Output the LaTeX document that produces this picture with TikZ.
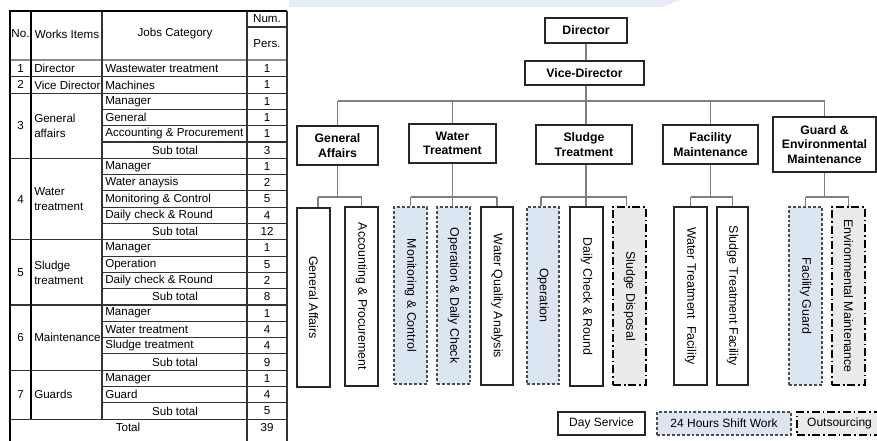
\documentclass[tikz,border=0pt]{standalone}
\usepackage{fontspec}
\setmainfont{Liberation Sans}
\usetikzlibrary{calc}

\definecolor{shiftblue}{HTML}{DCE6F2}
\definecolor{outgray}{HTML}{EBEBEB}
\definecolor{bandcol}{HTML}{E7EBF2}
\definecolor{linkgray}{HTML}{7F7F7F}

\tikzset{
  every node/.style={inner sep=0pt},
  dayserv/.style={draw=black!85, line width=0.8pt, fill=white},
  shiftwork/.style={draw=black!70, line width=0.85pt, dash pattern=on 2.2pt off 1.5pt, fill=shiftblue},
  outsrc/.style={draw=black, line width=1.1pt, dash pattern=on 6pt off 2.2pt on 1.2pt off 2.2pt, fill=outgray},
  dept/.style={dayserv, font=\fontsize{9.2}{11}\selectfont\bfseries, align=center},
  jobfont/.style={font=\fontsize{9.3}{11}\selectfont},
  legend/.style={font=\fontsize{9}{11}\selectfont},
  link/.style={draw=linkgray, line width=0.85pt},
  tabtext/.style={font=\fontsize{8.7}{11.2}\selectfont, align=left},
  tabthick/.style={draw=black, line width=1.4pt},
  tabline/.style={draw=black!80, line width=0.8pt},
  tabgray/.style={draw=black!45, line width=1.4pt},
}

% box given by its left/right/top/bottom edges (pixel units)
\newcommand\obox[7][]{%
  \pgfmathsetmacro\boxcx{(#3+#4)/2}%
  \pgfmathsetmacro\boxcy{(#5+#6)/2}%
  \pgfmathsetmacro\boxw{(#4-#3)*0.75}%
  \pgfmathsetmacro\boxh{(#6-#5)*0.75}%
  \node[#1, minimum width=\boxw pt, minimum height=\boxh pt] (#2) at (\boxcx,\boxcy) {#7};}
% tall box with text running downwards
\newcommand\jobbox[7][]{%
  \obox[#1, jobfont]{#2}{#3}{#4}{#5}{#6}{\rotatebox{-90}{#7}}}

% table rows
\newcommand\rowy[1]{\pgfmathsetmacro\ry{60.5+16.3*(#1+0.5)}}
\newcommand\trow[3]{\rowy{#1}%
  \node[tabtext, anchor=west] (job#1) at (105,\ry) {#2};
  \node[tabtext] (num#1) at (267,\ry) {#3};}
\newcommand\tsub[2]{\rowy{#1}%
  \node[tabtext] (job#1) at (175,\ry) {Sub total};
  \node[tabtext] (num#1) at (267,\ry) {#2};}
\newcommand\tgroup[4]{\pgfmathsetmacro\ry{60.5+16.3*((#1+#2)/2+0.5)}%
  \node[tabtext] (no#3) at (20.5,\ry) {#3};
  \node[tabtext, anchor=west] (item#3) at (34,\ry) {#4};}

\begin{document}
\begin{tikzpicture}[x=0.75pt, y=-0.75pt]
\useasboundingbox (0,0) rectangle (877,441);

% header band
\fill[bandcol] (289,0) -- (680,0) -- (662,7) -- (289,7) -- cycle;

% ---------------- staffing table ----------------
% horizontal rules across the whole table
\foreach \k in {1,2,6,11,15,19,22}
  \draw[tabline] (10,{60.5+16.3*\k}) -- (287,{60.5+16.3*\k});
% rules inside the job and number columns
\foreach \k in {3,4,5,7,8,9,10,12,13,14,16,17,18,20,21}
  \draw[tabline] (102,{60.5+16.3*\k}) -- (287,{60.5+16.3*\k});
\draw[tabgray] (10,60) -- (287,60);
\draw[tabline] (247,27) -- (287,27);
% vertical rules
\draw[tabline] (102,11) -- (102,{60.5+16.3*22});
\draw[tabline] (247,11) -- (247,441);
\draw[tabline] (287,11) -- (287,441);
\draw[tabthick] (31,11) -- (31,{60.5+16.3*22});
\draw[tabthick] (10,10.3) -- (10,441);
\draw[tabthick] (9.3,11) -- (287.4,11);

% header
\node[tabtext] (hNo) at (20.5,34) {No.};
\node[tabtext] (hItem) at (67,34) {Works Items};
\node[tabtext] (hJob) at (175,34) {Jobs Category};
\node[tabtext] (hNum) at (267,19) {Num.};
\node[tabtext] (hPers) at (267,44) {Pers.};

% groups
\tgroup{0}{0}{1}{Director}
\tgroup{1}{1}{2}{Vice Director}
\tgroup{2}{5}{3}{General\\affairs}
\tgroup{6}{10}{4}{Water\\treatment}
\tgroup{11}{14}{5}{Sludge\\treatment}
\tgroup{15}{18}{6}{Maintenance}
\tgroup{19}{21}{7}{Guards}

% rows
\trow{0}{Wastewater treatment}{1}
\trow{1}{Machines}{1}
\trow{2}{Manager}{1}
\trow{3}{General}{1}
\trow{4}{Accounting \& Procurement}{1}
\tsub{5}{3}
\trow{6}{Manager}{1}
\trow{7}{Water anaysis}{2}
\trow{8}{Monitoring \& Control}{5}
\trow{9}{Daily check \& Round}{4}
\tsub{10}{12}
\trow{11}{Manager}{1}
\trow{12}{Operation}{5}
\trow{13}{Daily check \& Round}{2}
\tsub{14}{8}
\trow{15}{Manager}{1}
\trow{16}{Water treatment}{4}
\trow{17}{Sludge treatment}{4}
\tsub{18}{9}
\trow{19}{Manager}{1}
\trow{20}{Guard}{4}
\tsub{21}{5}
\rowy{22}
\node[tabtext] (total) at (128,\ry) {Total};
\node[tabtext] (num22) at (267,\ry) {39};

% ---------------- organisation chart ----------------
\obox[dept]{dir}{545}{627}{18}{43}{Director}
\obox[dept]{vd}{525}{644}{61}{85}{Vice-Director}
\obox[dept]{ga}{297}{378}{126}{165}{General\\Affairs}
\obox[dept]{wt}{409}{496}{124}{163}{Water\\Treatment}
\obox[dept]{st}{536}{632}{125}{164}{Sludge\\Treatment}
\obox[dept]{fm}{663}{758}{125}{164}{Facility\\Maintenance}
\obox[dept]{gem}{773}{876}{117}{172}{Guard \&\\Environmental\\Maintenance}

\jobbox[dayserv]{gaGen}{297}{330}{208}{387}{General Affairs}
\jobbox[dayserv]{gaAcc}{345}{378}{207}{386}{Accounting \& Procurement}
\jobbox[shiftwork]{wtMon}{394}{427}{207}{384}{Monitoring \& Control}
\jobbox[shiftwork]{wtOp}{437}{470}{207}{384}{Operation \& Daily Check}
\jobbox[dayserv]{wtQual}{481}{513}{207}{385}{Water Quality Analysis}
\jobbox[shiftwork]{stOp}{527}{559}{207}{384}{Operation}
\jobbox[dayserv]{stDaily}{570}{603}{207}{386}{Daily Check \& Round}
\jobbox[outsrc]{stDisp}{613}{646}{207}{385}{Sludge Disposal}
\jobbox[dayserv]{fmWater}{674}{707}{207}{385}{Water Treatment\ \ Facility}
\jobbox[dayserv]{fmSludge}{717}{748}{207}{385}{Sludge Treatment Facility}
\jobbox[shiftwork]{gemGuard}{789}{822}{207}{385}{Facility Guard}
\jobbox[outsrc]{gemEnv}{832}{865}{207}{385}{Environmental Maintenance}

% legend
\obox[dayserv, legend]{lgDay}{558}{645}{412}{435}{Day Service}
\obox[shiftwork, legend]{lgShift}{657}{791}{412}{435}{24 Hours Shift Work}
\obox[outsrc, legend]{lgOut}{797}{882}{412}{435}{Outsourcing}

% connectors: director level
\coordinate (bus) at (586,101);
\coordinate (bar) at (586,197);
\draw[link] (dir.south) -- (dir.south |- vd.north);
\draw[link] (dir.south |- vd.south) -- (dir.south |- st.north);
\draw[link] (ga.north |- bus) -- (gem.north |- bus);
\foreach \d in {ga,wt,fm,gem}
  \draw[link] (\d.north |- bus) -- (\d.north);

% connectors: sections to jobs
\draw[link] (ga.south) -- (ga.south |- bar);
\draw[link] ([xshift=3.4pt]gaGen.north |- bar) -- (gaAcc.north |- bar);
\draw[link] ([xshift=3.4pt]gaGen.north |- bar) -- ([xshift=3.4pt]gaGen.north);
\draw[link] (gaAcc.north |- bar) -- (gaAcc.north);

\draw[link] (wt.south) -- (wt.south |- wtOp.north);
\draw[link] (wtMon.north |- bar) -- (wtQual.north |- bar);
\foreach \j in {wtMon,wtQual}
  \draw[link] (\j.north |- bar) -- (\j.north);

\draw[link] (dir.south |- st.south) -- (dir.south |- stDaily.north);
\draw[link] ([xshift=-1.5pt]stOp.north |- bar) -- ([xshift=-2pt]stDisp.north |- bar);
\draw[link] ([xshift=-1.5pt]stOp.north |- bar) -- ([xshift=-1.5pt]stOp.north);
\draw[link] ([xshift=-2pt]stDisp.north |- bar) -- ([xshift=-2pt]stDisp.north);

\draw[link] (fm.south) -- (fm.south |- bar);
\draw[link] (fmWater.north |- bar) -- (fmSludge.north |- bar);
\foreach \j in {fmWater,fmSludge}
  \draw[link] (\j.north |- bar) -- (\j.north);

\draw[link] (gem.south) -- (gem.south |- bar);
\draw[link] (gemGuard.north |- bar) -- (gemEnv.north |- bar);
\foreach \j in {gemGuard,gemEnv}
  \draw[link] (\j.north |- bar) -- (\j.north);
\end{tikzpicture}
\end{document}
